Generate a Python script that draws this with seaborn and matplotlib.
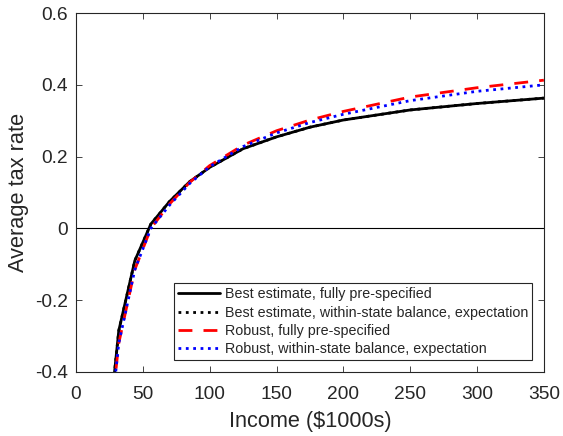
import pandas as pd
import matplotlib.pyplot as plt
import seaborn as sns

sns.set_theme(style="white")
plt.rcParams['font.family'] = ['Liberation Sans', 'DejaVu Sans']

income = [28, 32, 44, 56, 70, 85, 100, 125, 150, 175, 200, 250, 300, 350]
best_full = [-0.43, -0.285, -0.09, 0.012, 0.075, 0.13, 0.17, 0.222, 0.255, 0.282, 0.302, 0.330, 0.348, 0.363]
best_within = [-0.43, -0.285, -0.09, 0.012, 0.075, 0.13, 0.17, 0.222, 0.255, 0.282, 0.302, 0.330, 0.348, 0.363]
robust_full = [-0.46, -0.32, -0.115, 0.0, 0.068, 0.128, 0.175, 0.232, 0.272, 0.302, 0.326, 0.366, 0.392, 0.413]
robust_within = [-0.46, -0.32, -0.115, 0.0, 0.065, 0.125, 0.172, 0.228, 0.266, 0.295, 0.318, 0.356, 0.382, 0.400]

labels = ['Best estimate, fully pre-specified',
          'Best estimate, within-state balance, expectation',
          'Robust, fully pre-specified',
          'Robust, within-state balance, expectation']

df = pd.DataFrame({'income': income, labels[0]: best_full, labels[1]: best_within,
                   labels[2]: robust_full, labels[3]: robust_within})

fig = plt.figure(figsize=(5.63, 4.36), dpi=100)
ax = fig.add_axes([0.135, 0.147, 0.831, 0.823])

ax.axhline(0, color='black', linewidth=0.8)

styles = [('black', '-', 2.0), ('black', ':', 2.0), ('red', (0, (5, 4)), 2.0), ('blue', ':', 2.0)]
for lab, (c, ls, lw) in zip(labels, styles):
    sns.lineplot(data=df, x='income', y=lab, color=c, linestyle=ls, linewidth=lw, label=lab, ax=ax)

ax.set_xlim(0, 350)
ax.set_ylim(-0.4, 0.6)
ax.set_xticks(range(0, 351, 50))
ax.set_yticks([-0.4, -0.2, 0, 0.2, 0.4, 0.6])
ax.set_yticklabels(['-0.4', '-0.2', '0', '0.2', '0.4', '0.6'])
ax.tick_params(direction='in', length=4, width=0.6, labelsize=13.8, colors='#262626',
               top=True, right=True, bottom=True, left=True, pad=6)
ax.tick_params(axis='x', pad=10)
for s in ax.spines.values():
    s.set_color('#262626')
    s.set_linewidth(0.8)

ax.set_xlabel('Income ($1000s)', fontsize=15.7, color='#262626', labelpad=6)
ax.set_ylabel('Average tax rate', fontsize=15.7, color='#262626', labelpad=4)

leg = ax.legend(loc='lower right', fontsize=10.3, fancybox=False, framealpha=1,
                edgecolor='#262626', handlelength=2.9, handletextpad=0.35,
                borderpad=0.3, labelspacing=0.3, borderaxespad=0.8)
leg.get_frame().set_linewidth(0.8)

plt.savefig('out.png', dpi=100)
